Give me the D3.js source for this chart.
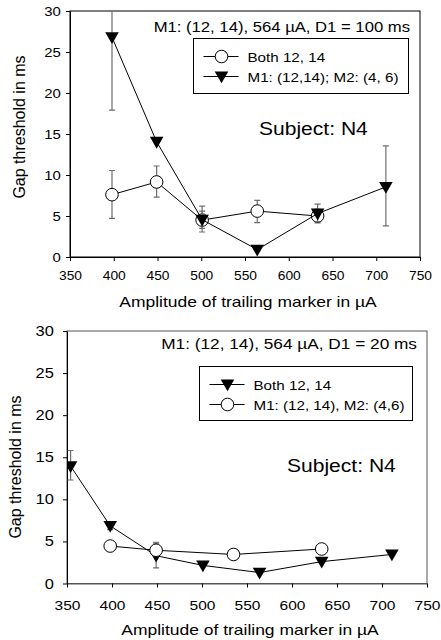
<!DOCTYPE html>
<html>
<head>
<meta charset="utf-8">
<script src="https://cdn.jsdelivr.net/npm/d3@7"></script>
<style>
  body { margin: 0; background: #fff; }
  svg { font-family: "Liberation Sans", Arial, sans-serif; }
</style>
</head>
<body>
<div id="chart-area"></div>
<script>
// tick values shared by both panels
const xTicks = [350, 400, 450, 500, 550, 600, 650, 700, 750];
const yTicks = [0, 5, 10, 15, 20, 25, 30];

// top panel (D1 = 100 ms)
const topBothX = [398, 449, 501, 564, 633];
const topBothY = [7.6, 9.15, 4.5, 5.6, 5.0];
const topBothLo = [4.7, 7.3, 3.05, 4.2, 4.15];
const topBothHi = [10.55, 11.1, 6.2, 6.9, 5.85];

const topM2X = [398, 449, 501, 564, 633, 711];
const topM2Y = [26.8, 14.05, 4.55, 0.9, 5.3, 8.55];
const topM2Lo = [17.9, null, 3.5, null, 4.3, 3.8];
const topM2Hi = [35.7, null, 5.6, null, 6.45, 13.55];

// bottom panel (D1 = 20 ms)
const botBothX = [354, 398, 449, 501, 564, 633, 711];
const botBothY = [13.95, 6.85, 3.3, 2.15, 1.3, 2.6, 3.45];
const botBothLo = [12.3, 6.4, 1.85, null, null, null, null];
const botBothHi = [15.8, 7.3, 4.8, null, null, null, null];

const botM2X = [398, 449, 535, 633];
const botM2Y = [4.45, 3.95, 3.45, 4.1];
const botM2Lo = [null, 3.3, null, null];
const botM2Hi = [null, 4.9, null, null];

const SX = 1.15; // the original picture is a bit wider than tall, text looks stretched

const svg = d3.select("#chart-area")
  .append("svg")
    .attr("width", 441)
    .attr("height", 640);

function series(xs, ys, lo, hi) {
  return xs.map((x, i) => ({ x: x, y: ys[i], lo: lo[i], hi: hi[i] }));
}

// text placed at x,y and stretched horizontally
function label(parent, x, y, str, size, anchor) {
  return parent.append("text")
    .attr("transform", "translate(" + x + "," + y + ") scale(" + SX + ",1)")
    .attr("text-anchor", anchor || "start")
    .attr("font-size", size)
    .text(str);
}

// one panel; box = plot rectangle in page pixels
function panel(box, opts) {
  const xScale = d3.scaleLinear().domain([350, 750]).range([box.left, box.right]);
  const yScale = d3.scaleLinear().domain([0, 30]).range([box.bottom, box.top]);

  const g = svg.append("g");
  const clipId = "clip" + opts.id;
  svg.append("clipPath").attr("id", clipId)
    .append("rect")
      .attr("x", box.left).attr("y", box.top)
      .attr("width", box.right - box.left).attr("height", box.bottom - box.top);

  // frame
  g.append("rect")
    .attr("x", box.left).attr("y", box.top)
    .attr("width", box.right - box.left).attr("height", box.bottom - box.top)
    .attr("fill", "none").attr("stroke", opts.frame).attr("stroke-width", 1);

  const xAxis = g.append("g")
    .attr("transform", "translate(0," + box.bottom + ")")
    .call(d3.axisBottom(xScale).tickValues(xTicks).tickSize(4).tickSizeOuter(0).tickPadding(opts.xPad));
  const yAxis = g.append("g")
    .attr("transform", "translate(" + box.left + ",0)")
    .call(d3.axisLeft(yScale).tickValues(yTicks).tickSize(4).tickSizeOuter(0).tickPadding(opts.yPad));
  xAxis.selectAll("text").attr("font-size", opts.xTickSize);
  yAxis.selectAll("text").attr("font-size", opts.yTickSize);
  [xAxis, yAxis].forEach((a) => {
    a.select(".domain").attr("stroke", "#000");
    a.selectAll("text")
      .attr("fill", "#000")
      .attr("font-family", "Liberation Sans, Arial, sans-serif")
      .attr("transform", "scale(" + SX + ",1)");
  });
  xAxis.select(".domain").attr("stroke", opts.frame);

  // axis titles
  label(g, (box.left + box.right) / 2 + 3, box.bottom + opts.xTitleDy, "Amplitude of trailing marker in \u00b5A", 15.2, "middle");
  g.append("text")
    .attr("transform", "translate(" + opts.yTitle[0] + "," + opts.yTitle[1] + ") rotate(-90)")
    .attr("text-anchor", "middle")
    .attr("font-size", 16)
    .text("Gap threshold in ms");

  // condition note and subject
  label(g, box.right - 10, box.top + opts.noteDy, opts.note, opts.noteSize, "end");
  label(g, opts.subject[0], opts.subject[1], "Subject: N4", 18.3);

  const line = d3.line().x((d) => xScale(d.x)).y((d) => yScale(d.y));
  const plot = g.append("g").attr("clip-path", "url(#" + clipId + ")");
  const tri = d3.symbol(d3.symbolTriangle, 80);

  opts.series.forEach((s) => {
    const data = s.data;
    const withErr = data.filter((d) => d.lo != null);
    plot.selectAll(null).data(withErr).enter().append("path")
      .attr("d", (d) => {
        const x = xScale(d.x), y1 = yScale(d.lo), y2 = yScale(d.hi);
        return "M" + x + "," + y1 + "V" + y2 + "M" + (x - 3) + "," + y1 + "H" + (x + 3) + "M" + (x - 3) + "," + y2 + "H" + (x + 3);
      })
      .attr("stroke", "#6e6e6e").attr("stroke-width", 1.2).attr("fill", "none");
    plot.append("path").datum(data)
      .attr("d", line).attr("fill", "none").attr("stroke", "#000").attr("stroke-width", 1);
    if (s.shape === "circle") {
      plot.selectAll(null).data(data).enter().append("circle")
        .attr("cx", (d) => xScale(d.x)).attr("cy", (d) => yScale(d.y)).attr("r", 6.3)
        .attr("fill", "#fff").attr("stroke", "#000").attr("stroke-width", 1);
    } else {
      plot.selectAll(null).data(data).enter().append("path")
        .attr("d", tri)
        .attr("transform", (d) => "translate(" + xScale(d.x) + "," + (yScale(d.y) - 1) + ") rotate(180)")
        .attr("fill", "#000");
    }
  });

  // legend
  const L = opts.legend;
  g.append("rect")
    .attr("x", L.x).attr("y", L.y).attr("width", L.w).attr("height", L.h)
    .attr("fill", "#fff").attr("stroke", "#000").attr("stroke-width", 1);
  opts.series.forEach((s, i) => {
    const ry = L.y + 18 + i * 20;
    const mx = L.x + 28;
    g.append("line")
      .attr("x1", L.x + 10).attr("x2", L.x + 45).attr("y1", ry).attr("y2", ry)
      .attr("stroke", "#000");
    if (s.shape === "circle") {
      g.append("circle").attr("cx", mx).attr("cy", ry).attr("r", 6.3)
        .attr("fill", "#fff").attr("stroke", "#000");
    } else {
      g.append("path").attr("d", tri)
        .attr("transform", "translate(" + mx + "," + (ry - 1) + ") rotate(180)")
        .attr("fill", "#000");
    }
    label(g, L.x + 54, ry + 5, s.name, 13.2);
  });
}

panel({ left: 70, right: 420, top: 11, bottom: 257 }, {
  id: "top",
  frame: "#000",
  xPad: 10, yPad: 4,
  xTickSize: 12, yTickSize: 13,
  xTitleDy: 49.5,
  yTitle: [25, 127],
  note: "M1: (12, 14), 564 \u00b5A, D1 = 100 ms",
  noteSize: 14.5, noteDy: 20.5,
  subject: [259, 134.5],
  legend: { x: 193.5, y: 38.5, w: 215, h: 55 },
  series: [
    { name: "Both 12, 14", shape: "circle", data: series(topBothX, topBothY, topBothLo, topBothHi) },
    { name: "M1: (12,14); M2: (4, 6)", shape: "triangle", data: series(topM2X, topM2Y, topM2Lo, topM2Hi) }
  ]
});

panel({ left: 67, right: 427, top: 331, bottom: 583.5 }, {
  id: "bot",
  frame: "#555",
  xPad: 12.5, yPad: 7.5,
  xTickSize: 13.5, yTickSize: 14.3,
  xTitleDy: 51.5,
  yTitle: [21, 467],
  note: "M1: (12, 14), 564 \u00b5A, D1 = 20 ms",
  noteSize: 15, noteDy: 17.5,
  subject: [287, 472],
  legend: { x: 199.5, y: 366.5, w: 213, h: 54 },
  series: [
    { name: "Both 12, 14", shape: "triangle", data: series(botBothX, botBothY, botBothLo, botBothHi) },
    { name: "M1: (12, 14), M2: (4,6)", shape: "circle", data: series(botM2X, botM2Y, botM2Lo, botM2Hi) }
  ]
});
</script>
</body>
</html>
